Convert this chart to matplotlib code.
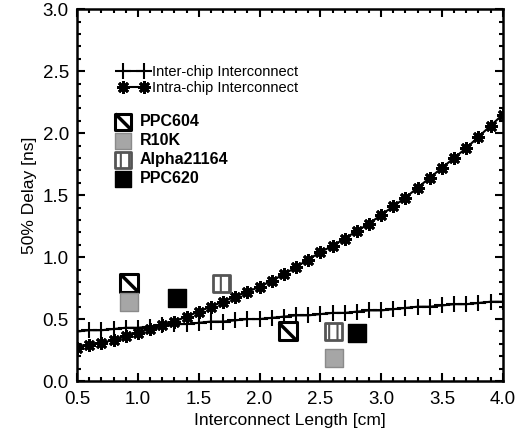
import matplotlib
matplotlib.use('Agg')
import matplotlib.pyplot as plt
from matplotlib.ticker import MultipleLocator
from matplotlib.path import Path
from matplotlib.legend_handler import HandlerTuple

plt.rcParams['font.family'] = ['Liberation Sans', 'DejaVu Sans']
plt.rcParams['hatch.linewidth'] = 1.5

# interconnect length [cm]
length = [0.5, 0.6, 0.7, 0.8, 0.9, 1.0, 1.1, 1.2, 1.3, 1.4, 1.5, 1.6,
          1.7, 1.8, 1.9, 2.0, 2.1, 2.2, 2.3, 2.4, 2.5, 2.6, 2.7, 2.8,
          2.9, 3.0, 3.1, 3.2, 3.3, 3.4, 3.5, 3.6, 3.7, 3.8, 3.9, 4.0]

inter_chip = [0.40, 0.41, 0.41, 0.42, 0.43, 0.43, 0.44, 0.45, 0.46, 0.46, 0.47, 0.48,
              0.48, 0.49, 0.50, 0.50, 0.51, 0.52, 0.53, 0.53, 0.54, 0.55, 0.55, 0.56,
              0.57, 0.57, 0.58, 0.59, 0.60, 0.60, 0.61, 0.62, 0.62, 0.63, 0.64, 0.64]

intra_chip = [0.27, 0.29, 0.31, 0.33, 0.36, 0.39, 0.42, 0.45, 0.48, 0.52, 0.56, 0.60,
              0.64, 0.68, 0.72, 0.76, 0.81, 0.86, 0.92, 0.98, 1.04, 1.09, 1.15, 1.21,
              1.27, 1.34, 1.41, 1.48, 1.56, 1.64, 1.72, 1.80, 1.88, 1.97, 2.06, 2.15]

# processor data points (length, delay)
ppc604_x = [0.93, 2.23]
ppc604_y = [0.79, 0.40]
r10k_x = [0.93, 2.61]
r10k_y = [0.64, 0.19]
alpha_x = [1.69, 2.61]
alpha_y = [0.79, 0.40]
ppc620_x = [1.32, 2.80]
ppc620_y = [0.67, 0.39]

fig = plt.figure(figsize=(5.21, 4.38), dpi=100)
ax = fig.add_axes([0.148, 0.130, 0.817, 0.849])

l1, = ax.plot(length, inter_chip, color='black', lw=1.5, marker='+',
              ms=11, mew=1.5, label='Inter-chip Interconnect')
l2, = ax.plot(length, intra_chip, color='black', lw=1.5, marker=(8, 2, 0),
              ms=9, mew=2.0, label='Intra-chip Interconnect')

# diagonal stroke used inside the PPC604 square
diag = Path([(-0.6, 0.6), (0.6, -0.6)], [Path.MOVETO, Path.LINETO])

msize = 150
s1 = ax.scatter(ppc604_x, ppc604_y, s=msize, marker='s', facecolor='white',
                edgecolor='black', linewidth=2.2, zorder=3)
s1d = ax.scatter(ppc604_x, ppc604_y, s=msize, marker=diag, facecolor='none',
                 edgecolor='black', linewidth=2.5, zorder=4)
s2 = ax.scatter(r10k_x, r10k_y, s=msize, marker='s', facecolor='#a6a6a6',
                edgecolor='#8a8a8a', linewidth=1, zorder=3)
s3 = ax.scatter(alpha_x, alpha_y, s=msize, marker='s', facecolor='white',
                edgecolor='#555555', linewidth=2, hatch='||', zorder=3)
s4 = ax.scatter(ppc620_x, ppc620_y, s=msize, marker='s', facecolor='black',
                edgecolor='black', linewidth=1, zorder=3)

ax.set_xlim(0.5, 4.0)
ax.set_ylim(0.0, 3.0)
ax.xaxis.set_major_locator(MultipleLocator(0.5))
ax.xaxis.set_minor_locator(MultipleLocator(0.1))
ax.yaxis.set_major_locator(MultipleLocator(0.5))
ax.yaxis.set_minor_locator(MultipleLocator(0.1))
ax.xaxis.set_major_formatter(plt.FormatStrFormatter('%.1f'))
ax.yaxis.set_major_formatter(plt.FormatStrFormatter('%.1f'))
ax.tick_params(which='both', direction='in', top=True, right=True, width=1.5)
ax.tick_params(which='major', length=6, labelsize=13.5)
ax.tick_params(which='minor', length=3)
ax.tick_params(axis='x', pad=7)
ax.tick_params(axis='y', pad=6)
for sp in ax.spines.values():
    sp.set_linewidth(1.8)

ax.set_xlabel('Interconnect Length [cm]', fontsize=12.5)
ax.set_ylabel('50% Delay [ns]', fontsize=12.5)

leg1 = ax.legend(handles=[l1, l2], loc='upper left', bbox_to_anchor=(0.085, 0.865),
                 frameon=False, fontsize=10.5, numpoints=2, handlelength=2.0,
                 handletextpad=0.25, labelspacing=0.1, borderaxespad=0)
ax.add_artist(leg1)
leg2 = ax.legend(handles=[(s1, s1d), s2, s3, s4],
                 labels=['PPC604', 'R10K', 'Alpha21164', 'PPC620'],
                 handler_map={tuple: HandlerTuple(ndivide=1)},
                 loc='upper left', bbox_to_anchor=(0.075, 0.735),
                 frameon=False, prop={'size': 11.5, 'weight': 'bold'}, scatterpoints=1,
                 handlelength=1.0, handletextpad=0.5, labelspacing=0.25,
                 borderaxespad=0, markerscale=0.95)

fig.savefig('out.png', dpi=100)
